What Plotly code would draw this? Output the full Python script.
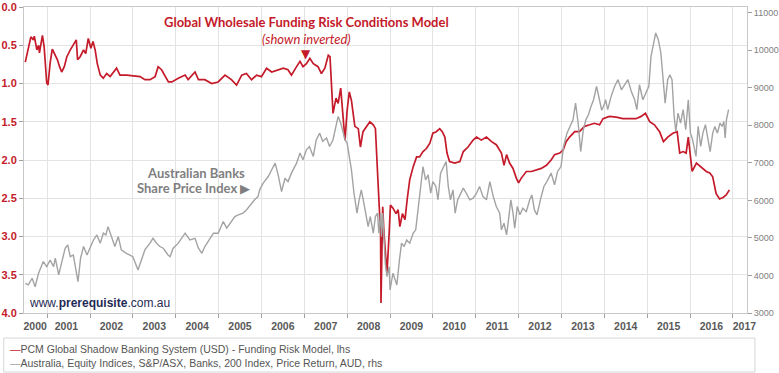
import plotly.graph_objects as go

# ---------------- data ----------------
red_years = [2000.49, 2000.56, 2000.62, 2000.68, 2000.70, 2000.76, 2000.80, 2000.82, 2000.89, 2000.93,
             2000.99, 2001.02, 2001.07, 2001.12, 2001.19, 2001.24, 2001.29, 2001.34, 2001.40, 2001.46,
             2001.54, 2001.61, 2001.68, 2001.71, 2001.77, 2001.85, 2001.90, 2001.96, 2002.02, 2002.07,
             2002.12, 2002.17, 2002.24, 2002.31, 2002.39, 2002.47, 2002.62, 2002.70, 2002.86, 2003.01,
             2003.17, 2003.28, 2003.40, 2003.52, 2003.59, 2003.67, 2003.75, 2003.83, 2003.91, 2004.06,
             2004.22, 2004.29, 2004.45, 2004.53, 2004.68, 2004.84, 2004.99, 2005.15, 2005.30, 2005.42,
             2005.54, 2005.65, 2005.77, 2005.89, 2006.00, 2006.12, 2006.24, 2006.39, 2006.51, 2006.62,
             2006.70, 2006.82, 2006.90, 2006.97, 2007.05, 2007.13, 2007.21, 2007.32, 2007.40, 2007.48,
             2007.56, 2007.60, 2007.64, 2007.67, 2007.74, 2007.79, 2007.85, 2007.89, 2007.95, 2008.00,
             2008.05, 2008.10, 2008.18, 2008.26, 2008.31, 2008.37, 2008.45, 2008.53, 2008.61, 2008.66,
             2008.71, 2008.74, 2008.78, 2008.79, 2008.83, 2008.86, 2008.89, 2008.93, 2008.98, 2009.01,
             2009.07, 2009.14, 2009.19, 2009.23, 2009.29, 2009.35, 2009.40, 2009.46, 2009.54, 2009.62,
             2009.69, 2009.77, 2009.85, 2009.93, 2010.00, 2010.08, 2010.16, 2010.22, 2010.28, 2010.33,
             2010.39, 2010.51, 2010.63, 2010.71, 2010.82, 2010.94, 2011.02, 2011.13, 2011.25, 2011.37,
             2011.48, 2011.60, 2011.66, 2011.72, 2011.79, 2011.87, 2011.95, 2012.00, 2012.06, 2012.18,
             2012.30, 2012.41, 2012.53, 2012.65, 2012.76, 2012.84, 2012.96, 2013.04, 2013.11, 2013.19,
             2013.31, 2013.42, 2013.54, 2013.66, 2013.77, 2013.89, 2013.97, 2014.12, 2014.28, 2014.43,
             2014.59, 2014.74, 2014.86, 2014.96, 2015.06, 2015.17, 2015.29, 2015.38, 2015.48, 2015.60,
             2015.70, 2015.76, 2015.84, 2015.91, 2015.96, 2016.00, 2016.05, 2016.15, 2016.26, 2016.38,
             2016.46, 2016.53, 2016.61, 2016.69, 2016.77, 2016.84, 2016.92]
red_values = [0.72, 0.56, 0.39, 0.43, 0.38, 0.56, 0.50, 0.60, 0.37, 0.52,
              0.99, 1.02, 0.73, 0.55, 0.63, 0.69, 0.78, 0.85, 0.78, 0.65,
              0.56, 0.50, 0.43, 0.69, 0.65, 0.56, 0.61, 0.41, 0.54, 0.45,
              0.56, 0.74, 0.89, 0.93, 0.87, 0.91, 0.80, 0.89, 0.89, 0.90,
              0.91, 0.95, 0.95, 0.91, 0.78, 0.82, 0.91, 0.98, 0.98, 0.93,
              0.89, 0.95, 0.85, 0.95, 0.95, 1.00, 0.98, 0.89, 0.95, 1.02,
              0.89, 0.87, 0.95, 0.89, 0.91, 0.80, 0.85, 0.82, 0.80, 0.82,
              0.89, 0.78, 0.71, 0.78, 0.74, 0.67, 0.74, 0.78, 0.87, 0.80,
              0.63, 0.65, 1.13, 1.39, 1.19, 1.26, 1.06, 1.30, 1.74, 1.35,
              1.11, 1.22, 1.56, 1.59, 1.83, 1.63, 1.56, 1.50, 1.54, 1.59,
              2.17, 2.61, 2.96, 3.87, 2.61, 2.96, 3.22, 3.48, 2.96, 2.59,
              2.63, 2.70, 2.65, 2.87, 2.70, 2.78, 2.52, 2.26, 2.09, 1.96,
              1.96, 1.89, 1.85, 1.78, 1.65, 1.63, 1.59, 1.63, 1.70, 1.91,
              2.02, 2.04, 2.02, 1.89, 1.83, 1.74, 1.70, 1.74, 1.70, 1.76,
              1.80, 1.91, 2.07, 1.93, 2.04, 2.11, 2.24, 2.30, 2.24, 2.15,
              2.15, 2.13, 2.11, 2.07, 2.00, 1.93, 1.91, 1.87, 1.76, 1.70,
              1.63, 1.63, 1.56, 1.54, 1.52, 1.54, 1.46, 1.43, 1.44, 1.46,
              1.46, 1.46, 1.43, 1.39, 1.50, 1.54, 1.63, 1.76, 1.70, 1.65,
              1.63, 1.91, 1.89, 1.91, 1.70, 1.87, 2.15, 2.04, 2.09, 2.15,
              2.17, 2.22, 2.44, 2.51, 2.49, 2.46, 2.39]

grey_years = [2000.49, 2000.56, 2000.65, 2000.72, 2000.80, 2000.91, 2000.99, 2001.07, 2001.15, 2001.19,
              2001.27, 2001.34, 2001.42, 2001.48, 2001.54, 2001.61, 2001.67, 2001.72, 2001.78, 2001.85,
              2001.93, 2002.00, 2002.08, 2002.16, 2002.24, 2002.31, 2002.37, 2002.42, 2002.50, 2002.58,
              2002.66, 2002.73, 2002.85, 2003.00, 2003.12, 2003.20, 2003.28, 2003.40, 2003.47, 2003.55,
              2003.63, 2003.71, 2003.82, 2003.87, 2003.94, 2004.06, 2004.22, 2004.33, 2004.45, 2004.53,
              2004.61, 2004.68, 2004.80, 2004.88, 2004.99, 2005.11, 2005.19, 2005.30, 2005.38, 2005.46,
              2005.57, 2005.65, 2005.77, 2005.84, 2005.92, 2005.96, 2006.04, 2006.16, 2006.24, 2006.32,
              2006.39, 2006.47, 2006.55, 2006.62, 2006.70, 2006.82, 2006.90, 2006.97, 2007.05, 2007.12,
              2007.21, 2007.28, 2007.36, 2007.43, 2007.52, 2007.59, 2007.67, 2007.74, 2007.79, 2007.85,
              2007.91, 2007.95, 2008.00, 2008.05, 2008.10, 2008.16, 2008.23, 2008.28, 2008.33, 2008.39,
              2008.44, 2008.49, 2008.54, 2008.61, 2008.66, 2008.71, 2008.74, 2008.78, 2008.80, 2008.83,
              2008.89, 2008.93, 2008.98, 2009.00, 2009.07, 2009.12, 2009.16, 2009.22, 2009.27, 2009.33,
              2009.39, 2009.46, 2009.54, 2009.60, 2009.66, 2009.72, 2009.77, 2009.83, 2009.89, 2009.95,
              2010.00, 2010.07, 2010.12, 2010.18, 2010.25, 2010.31, 2010.36, 2010.41, 2010.47, 2010.52,
              2010.58, 2010.65, 2010.71, 2010.78, 2010.86, 2010.94, 2011.02, 2011.09, 2011.17, 2011.25,
              2011.33, 2011.41, 2011.48, 2011.56, 2011.60, 2011.66, 2011.72, 2011.76, 2011.82, 2011.87,
              2011.91, 2011.97, 2012.03, 2012.10, 2012.18, 2012.26, 2012.31, 2012.37, 2012.43, 2012.51,
              2012.59, 2012.66, 2012.76, 2012.84, 2012.91, 2012.99, 2013.05, 2013.13, 2013.21, 2013.27,
              2013.33, 2013.39, 2013.45, 2013.51, 2013.57, 2013.63, 2013.69, 2013.75, 2013.82, 2013.88,
              2013.94, 2014.00, 2014.03, 2014.08, 2014.16, 2014.24, 2014.32, 2014.40, 2014.47, 2014.55,
              2014.63, 2014.71, 2014.76, 2014.82, 2014.90, 2014.98, 2015.04, 2015.09, 2015.14, 2015.20,
              2015.26, 2015.32, 2015.38, 2015.42, 2015.48, 2015.53, 2015.58, 2015.63, 2015.67, 2015.72,
              2015.78, 2015.84, 2015.90, 2015.96, 2016.01, 2016.06, 2016.14, 2016.19, 2016.25, 2016.30,
              2016.36, 2016.42, 2016.47, 2016.53, 2016.58, 2016.64, 2016.70, 2016.75, 2016.79, 2016.82,
              2016.85, 2016.90]
grey_values = [3790, 3750, 3925, 3700, 4060, 4370, 4235, 4410, 4235, 4460,
               4015, 4325, 4725, 4815, 4500, 4545, 4145, 3835, 4460, 4770,
               4545, 4725, 4945, 5080, 4860, 5125, 5080, 5300, 5035, 4770,
               5035, 4680, 4590, 4500, 4145, 4410, 4680, 4860, 4990, 4860,
               4770, 4725, 4545, 4500, 4725, 4860, 5125, 4945, 4990, 4725,
               4590, 4770, 4990, 5125, 5125, 5435, 5260, 5435, 5570, 5615,
               5660, 5745, 5925, 6015, 6100, 6280, 6460, 6635, 6815, 6990,
               6680, 6235, 6590, 6500, 6725, 6990, 7260, 7080, 7345, 7435,
               7170, 7615, 7790, 7570, 7660, 7435, 7615, 7970, 8235, 8060,
               7790, 7615, 7525, 7170, 6815, 6190, 5660, 6015, 6280, 5925,
               5660, 5300, 5570, 5125, 5570, 5660, 5125, 5660, 5035, 5660,
               4325, 3970, 4235, 3615, 4060, 3880, 3745, 4415, 4860, 4770,
               4945, 4860, 5125, 5215, 5835, 6370, 6900, 6545, 6680, 6190,
               6500, 6370, 6015, 6725, 6900, 7035, 6370, 6015, 6280, 5660,
               6015, 6190, 6325, 6190, 6015, 6060, 6190, 6370, 6100, 6015,
               6500, 6100, 5835, 5660, 5215, 5390, 5080, 5435, 6015, 5660,
               5260, 5835, 5615, 5790, 5700, 6015, 6145, 5745, 5615, 6015,
               6370, 6500, 6725, 6415, 6770, 6900, 7435, 7790, 8015, 8145,
               8590, 8060, 7300, 7880, 8145, 8280, 8500, 8680, 9035, 8700,
               8400, 8550, 8680, 8415, 8770, 9035, 9215, 8945, 9080, 9215,
               8900, 8680, 8415, 9080, 8680, 8900, 9035, 9835, 10105, 10460,
               10280, 9925, 9125, 8590, 9215, 9345, 9215, 8235, 7835, 8325,
               8060, 8415, 7880, 8680, 7790, 7615, 7170, 7970, 7435, 7790,
               8015, 7615, 7300, 7790, 7970, 7790, 8060, 7970, 8100, 7660,
               8145, 8415]

year_label_pos = [2000.72, 2001.45, 2002.5, 2003.5, 2004.5, 2005.5, 2006.5, 2007.5, 2008.5,
                  2009.5, 2010.5, 2011.5, 2012.5, 2013.5, 2014.5, 2015.5, 2016.5, 2017.27]
year_labels = [str(y) for y in range(2000, 2018)]
year_ticks = list(range(2001, 2018))
left_ticks = [0.0, 0.5, 1.0, 1.5, 2.0, 2.5, 3.0, 3.5, 4.0]
right_ticks = [3000, 4000, 5000, 6000, 7000, 8000, 9000, 10000, 11000]

RED = "#c41a2a"
GREY = "#a3a3a3"

fig = go.Figure()
fig.add_trace(go.Scatter(x=grey_years, y=grey_values, mode="lines", yaxis="y2",
                         line=dict(color=GREY, width=1.4), showlegend=False))
fig.add_trace(go.Scatter(x=red_years, y=red_values, mode="lines", yaxis="y",
                         line=dict(color=RED, width=1.7), showlegend=False))

fig.update_layout(
    width=779, height=373,
    margin=dict(l=24, r=32, t=7, b=60),
    paper_bgcolor="white", plot_bgcolor="white",
    xaxis=dict(
        automargin=False,
        range=[2000.46, 2017.33],
        tickmode="array", tickvals=year_label_pos, ticktext=year_labels,
        ticks="outside", ticklen=3, tickcolor="rgba(0,0,0,0)",
        tickfont=dict(family="Liberation Sans", size=10.5, color="#595959", weight="bold"),
        showgrid=False, zeroline=False,
        showline=True, linecolor="#c8c8c8", linewidth=1, mirror=True,
        minor=dict(tickmode="array", tickvals=year_ticks, ticks="outside", ticklen=4,
                   tickcolor="#a0a0a0", showgrid=True, gridcolor="#e3e3e3", gridwidth=1),
    ),
    yaxis=dict(
        automargin=False,
        range=[4.0, 0.0], tickmode="array", tickvals=left_ticks,
        ticktext=["%.1f" % v for v in left_ticks],
        ticks="outside", ticklen=4, tickcolor="#a0a0a0",
        tickfont=dict(family="Liberation Sans", size=11, color=RED, weight="bold"),
        showgrid=True, gridcolor="#e3e3e3", zeroline=False,
        showline=True, linecolor="#c8c8c8", linewidth=1,
    ),
    yaxis2=dict(
        automargin=False,
        range=[3000, 11150], overlaying="y", side="right",
        tickmode="array", tickvals=right_ticks, ticktext=[str(v) for v in right_ticks],
        ticks="outside", ticklen=4, tickcolor="#a0a0a0",
        tickfont=dict(family="Liberation Sans", size=9, color="#7f7f7f"),
        showgrid=False, zeroline=False,
        showline=True, linecolor="#c8c8c8", linewidth=1,
    ),
)

ann = []
ann.append(dict(x=2007.05, y=0.20, xref="x", yref="y", text="<b>Global Wholesale Funding Risk Conditions Model</b>",
                showarrow=False, font=dict(family="Lato", size=13, color=RED), xanchor="center", yanchor="middle"))
ann.append(dict(x=2007.05, y=0.42, xref="x", yref="y", text="<i>(shown inverted)</i>",
                showarrow=False, font=dict(family="Lato", size=13, color=RED), xanchor="center", yanchor="middle"))
ann.append(dict(x=2007.05, y=0.62, xref="x", yref="y", text="▼",
                showarrow=False, font=dict(family="DejaVu Sans", size=12, color=RED), xanchor="center", yanchor="middle"))
ann.append(dict(x=2004.47, y=2.17, xref="x", yref="y", text="<b>Australian Banks</b>",
                showarrow=False, font=dict(family="Lato", size=13, color="#7f7f7f"), xanchor="center", yanchor="middle"))
ann.append(dict(x=2005.80, y=2.37, xref="x", yref="y", text="<b>Share Price Index</b> ▶",
                showarrow=False, font=dict(family="Lato", size=13, color="#7f7f7f"), xanchor="right", yanchor="middle"))
ann.append(dict(x=2000.53, y=3.87, xref="x", yref="y",
                text="www.<b>prerequisite</b>.com.au",
                showarrow=False, font=dict(family="Liberation Sans", size=12, color="#1f2a55"), xanchor="left", yanchor="middle"))
ann.append(dict(x=-0.022, y=-0.118, xref="paper", yref="paper",
                text="<span style='color:%s'>—</span>PCM Global Shadow Banking System (USD) - Funding Risk Model, lhs" % RED,
                showarrow=False, font=dict(family="Liberation Sans", size=10.5, color="#555555"), xanchor="left", yanchor="middle"))
ann.append(dict(x=-0.022, y=-0.163, xref="paper", yref="paper",
                text="<span style='color:%s'>—</span>Australia, Equity Indices, S&amp;P/ASX, Banks, 200 Index, Price Return, AUD, rhs" % GREY,
                showarrow=False, font=dict(family="Liberation Sans", size=10.5, color="#555555"), xanchor="left", yanchor="middle"))
fig.update_layout(annotations=ann)

fig.add_shape(type="rect", xref="paper", yref="paper", x0=-0.028, x1=1.011, y0=-0.193, y1=-0.082,
              line=dict(color="#d6d6d6", width=1), fillcolor="rgba(0,0,0,0)", layer="below")

fig.write_html("out.html", config={"displayModeBar": False},
               post_script="document.body.style.margin='0';document.body.style.overflow='hidden';")
